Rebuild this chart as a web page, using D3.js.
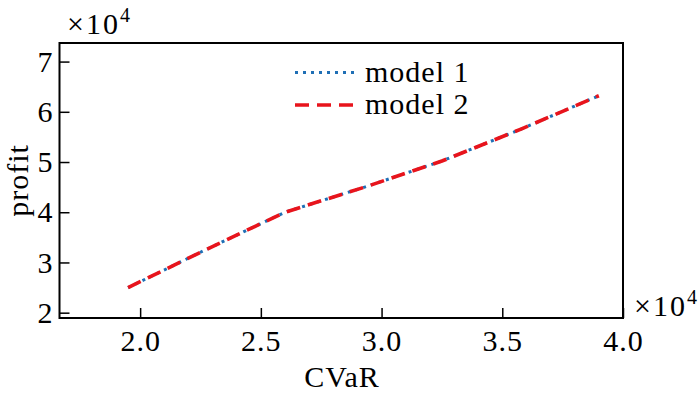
<!DOCTYPE html>
<html><head><meta charset="utf-8">
<script src="https://cdn.jsdelivr.net/npm/d3@7"></script>
<style>body{margin:0;background:#fff}svg{display:block}</style>
</head><body>
<svg id="c" width="700" height="393"></svg>
<script>
const cvar = [1.95, 2.27, 2.6, 2.93, 3.25, 3.58, 3.9];
const model1 = [2.5, 3.25, 4.0, 4.5, 5.02, 5.66, 6.32];
const model2 = [2.5, 3.25, 4.0, 4.5, 5.02, 5.66, 6.32];
const xTicks = [2.0, 2.5, 3.0, 3.5, 4.0];
const yTicks = [2, 3, 4, 5, 6, 7];
const seriesNames = ["model 1", "model 2"];

const svg = d3.select("#c");
const FONT = "Liberation Serif";
const FS = 30, LS = 1;
function styleText(sel, fs) {
  return sel.attr("font-family", FONT).attr("font-size", fs || FS)
    .attr("letter-spacing", LS).attr("fill", "#000");
}
const L = 59.5, R = 623, T = 43, B = 318;
const x = d3.scaleLinear().domain([1.666, 4.0]).range([L, R]);
const y = d3.scaleLinear().domain([1.894, 7.37]).range([B, T]);

const blue = "#1f6fb5", red = "#e8141c";

const line = d3.line().x((d,i)=>x(cvar[i])).y(d=>y(d));
svg.append("path").attr("d", line(model1)).attr("fill","none")
  .attr("stroke", blue).attr("stroke-width", 3).attr("stroke-dasharray","3,5");
svg.append("path").attr("d", line(model2)).attr("fill","none")
  .attr("stroke", red).attr("stroke-width", 3.6).attr("stroke-dasharray","14,8");

// axes
const xa = svg.append("g").attr("transform",`translate(0,${B})`)
  .call(d3.axisBottom(x).tickValues(xTicks).tickSize(-10).tickPadding(10).tickFormat(d3.format(".1f")));
const ya = svg.append("g").attr("transform",`translate(${L},0)`)
  .call(d3.axisLeft(y).tickValues(yTicks).tickSize(-10).tickPadding(6).tickFormat(d3.format("d")));
[xa, ya].forEach(g => {
  g.attr("font-family", FONT);
  g.select(".domain").remove();
  g.selectAll("line").attr("stroke","#000").attr("stroke-width",1.5);
  styleText(g.selectAll("text"));
});
xa.selectAll("text").attr("dy", "0.75em");
svg.append("rect").attr("x",L).attr("y",T).attr("width",R-L).attr("height",B-T)
  .attr("fill","none").attr("stroke","#000").attr("stroke-width",2);

// axis labels
styleText(svg.append("text").attr("x", 342).attr("y", 387).attr("text-anchor","middle")).text("CVaR");
styleText(svg.append("text").attr("transform", `translate(28,${(T+B)/2}) rotate(-90)`).attr("text-anchor","middle")).text("profit");

// multipliers
function mult(px, py) {
  const t = styleText(svg.append("text").attr("x", px).attr("y", py)).attr("letter-spacing", 2);
  t.append("tspan").text("×10");
  t.append("tspan").attr("dy", -12).attr("font-size", 20).text("4");
}
mult(67, 34);
mult(634, 316);

// legend
const lg = [{name: seriesNames[0], c: blue, w: 3, da: "3,5"}, {name: seriesNames[1], c: red, w: 3.6, da: "14,8"}];
lg.forEach((d,i) => {
  const yy = 72.5 + i*32.5;
  svg.append("line").attr("x1",295).attr("x2",355).attr("y1",yy).attr("y2",yy)
    .attr("stroke", d.c).attr("stroke-width", d.w).attr("stroke-dasharray", d.da);
  styleText(svg.append("text").attr("x", 365).attr("y", yy + 9)).text(d.name);
});
</script>
</body></html>
